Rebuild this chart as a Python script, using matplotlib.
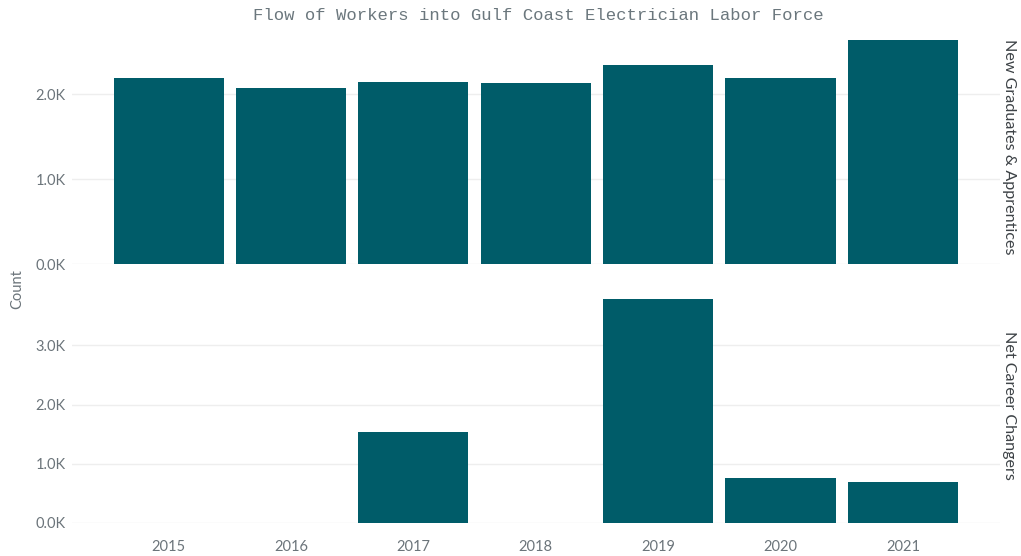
import matplotlib
matplotlib.use("Agg")
import matplotlib.pyplot as plt
from matplotlib.ticker import FuncFormatter, MultipleLocator

# ── data ─────────────────────────────────────────────────────────────────────
years = [2015, 2016, 2017, 2018, 2019, 2020, 2021]
new_grads = [2190, 2070, 2150, 2130, 2350, 2190, 2640]
career_changers = [0, 0, 1535, 0, 3780, 760, 690]
panel_labels = ["New Graduates & Apprentices", "Net Career Changers"]
title = "Flow of Workers into Gulf Coast Electrician Labor Force"

BAR = "#005c69"
GRID = "#eeeeee"
TICK = "#6b747a"

fig = plt.figure(figsize=(10.21, 5.56), dpi=100)
ax_top = fig.add_axes([0.0705, 0.525, 0.9085, 0.423])
ax_bot = fig.add_axes([0.0705, 0.0594, 0.9085, 0.4226])

fmt = FuncFormatter(lambda v, _: f"{v / 1000:.1f}K")

for ax, vals, lab in [(ax_top, new_grads, panel_labels[0]),
                      (ax_bot, career_changers, panel_labels[1])]:
    ax.bar(years, vals, width=0.9, color=BAR, zorder=3)
    ax.set_xlim(2014.21, 2021.79)
    ax.set_ylim(0, max(vals) * 1.05)
    ax.yaxis.set_major_locator(MultipleLocator(1000))
    ax.yaxis.set_major_formatter(fmt)
    ax.grid(axis="y", color=GRID, linewidth=1, zorder=0)
    for s in ax.spines.values():
        s.set_visible(False)
    ax.tick_params(axis="y", length=0, colors=TICK, labelsize=10.5, pad=4.5)
    ax.tick_params(axis="x", length=0, colors=TICK, labelsize=10.5, pad=12)
    for t in ax.get_yticklabels() + ax.get_xticklabels():
        t.set_fontfamily("Lato")
    ax.text(1.003, 0.5, lab, transform=ax.transAxes, rotation=-90,
            ha="left", va="center", fontsize=11.6, color="#3d4246",
            family="Lato")

ax_top.set_xticks(years)
ax_top.tick_params(axis="x", labelbottom=False)
ax_bot.set_xticks(years)
ax_bot.set_xticklabels([str(y) for y in years])
for t in ax_bot.get_xticklabels():
    t.set_fontfamily("Lato")

fig.text(0.017, 0.48, "Count", rotation=90, ha="center", va="center",
         fontsize=10.5, color=TICK, family="Lato")
fig.text(0.527, 0.972, title, ha="center", va="center", fontsize=12.4,
         color="#6b777d", family="Liberation Mono")

fig.savefig("out.png", dpi=100)
